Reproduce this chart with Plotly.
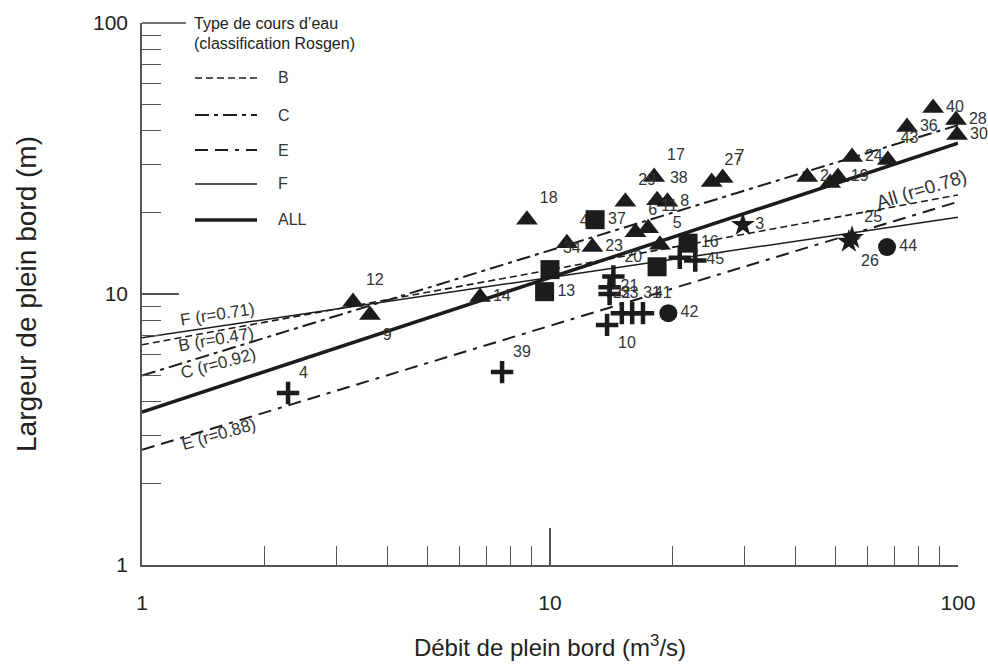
import math
import plotly.graph_objects as go

# ---------------- data ----------------
# Regression lines (value at Q=1 and Q=100 m3/s)
line_x = [1, 100]
line_B = [6.5, 23.2]
line_C = [5.0, 42.0]
line_E = [2.66, 21.9]
line_F = [6.9, 19.2]
line_ALL = [3.67, 36.0]

# Triangles
tri_x = [3.29, 3.62, 6.74, 8.78, 11.0, 12.7, 15.3, 18.0, 18.3, 19.4, 16.2, 17.4, 18.6,
         24.9, 26.5, 42.7, 48.6, 50.8, 55.0, 67.3, 75.0, 86.9, 98.9, 99.5]
tri_y = [9.34, 8.37, 9.75, 18.8, 15.4, 14.9, 21.9, 27.0, 22.2, 21.9, 16.9, 17.5, 15.2,
         25.9, 26.8, 27.0, 25.7, 27.0, 32.0, 31.2, 41.3, 48.6, 43.9, 38.6]
tri_lab = ["12", "9", "14", "18", "46", "23", "29", "17", "38", "8", "6", "11", "5",
           "27", "7", "2", "", "19", "24", "43", "36", "40", "28", "30"]

# Squares
sq_x = [12.9, 10.0, 9.7, 21.8, 18.3]
sq_y = [18.8, 12.3, 10.2, 15.4, 12.6]
sq_lab = ["37", "34", "13", "16", ""]

# Crosses
pl_x = [2.28, 7.63, 14.3, 14.0, 14.0, 13.8, 15.0, 15.9, 16.9, 22.7, 20.8]
pl_y = [4.31, 5.15, 11.6, 10.6, 10.0, 7.69, 8.5, 8.5, 8.5, 13.3, 13.6]
pl_lab = ["4", "39", "20", "21", "33", "10", "22", "31", "41", "45", ""]

# Stars
st_x = [29.7, 55.0, 54.0]
st_y = [18.0, 16.1, 15.6]
st_lab = ["3", "25", "26"]

# Circles
ci_x = [19.5, 67.0]
ci_y = [8.5, 14.9]
ci_lab = ["42", "44"]

# Axis ticks
tick_vals = [1, 10, 100]
tick_text = ["1", "10", "100"]
minor_vals = [2, 3, 4, 5, 6, 7, 8, 9, 20, 30, 40, 50, 60, 70, 80, 90]

# ---------------- styling ----------------
INK = "#1c1c1c"
FONT = "Liberation Sans, Arial, sans-serif"

label_pos = {"9": "bottom right", "13": "middle right", "14": "middle right",
             "21": "middle right", "33": "middle right", "10": "bottom right",
             "42": "middle right", "44": "middle right", "3": "middle right",
             "26": "bottom right", "8": "middle right", "30": "middle right",
             "36": "middle right", "40": "middle right", "28": "middle right",
             "24": "middle right", "2": "middle right", "19": "middle right",
             "16": "middle right", "37": "middle right", "23": "middle right",
             "45": "middle right", "43": "top right", "22": "top center",
             "31": "top right", "41": "top right", "20": "top right"}

fig = go.Figure()

lines = [("B", line_B, dict(width=1.6, dash="7px,4px")),
         ("C", line_C, dict(width=2, dash="14px,5px,4px,5px")),
         ("E", line_E, dict(width=2, dash="13px,7px,13px,7px,4px,7px")),
         ("F", line_F, dict(width=1.5)),
         ("ALL", line_ALL, dict(width=3.5))]
for name, ys, st in lines:
    fig.add_trace(go.Scatter(x=line_x, y=ys, mode="lines", name=name,
                             line=dict(color=INK, **st), showlegend=False,
                             hoverinfo="skip"))


def pts(xs, ys, labs, symbol, size, extra=None):
    mk = dict(symbol=symbol, size=size, color=INK)
    if extra:
        mk.update(extra)
    fig.add_trace(go.Scatter(
        x=xs, y=ys, mode="markers+text", text=[l if l else None for l in labs],
        textposition=[label_pos.get(l, "top right") for l in labs],
        textfont=dict(family=FONT, size=16, color="#333"),
        marker=mk, showlegend=False, cliponaxis=False))


pts(tri_x, tri_y, tri_lab, "triangle-up", 19)
pts(sq_x, sq_y, sq_lab, "square", 19)
pts(pl_x, pl_y, pl_lab, "cross-thin", 16, dict(line=dict(width=4.5, color=INK)))
pts(st_x, st_y, st_lab, "star", 18)
pts(ci_x, ci_y, ci_lab, "circle", 18)

# ---------------- line labels ----------------
line_labels = [("F (r=0.71)", 1.53, 8.37, -9, 17),
               ("B (r=0.47)", 1.52, 6.82, -10, 17),
               ("C (r=0.92)", 1.54, 5.52, -15, 17),
               ("E (r=0.88)", 1.54, 3.02, -16, 17),
               ("All (r=0.78)", 81.2, 24.2, -17, 19)]
for txt, x, y, ang, fs in line_labels:
    fig.add_annotation(x=math.log10(x), y=math.log10(y),
                       text=txt, showarrow=False, textangle=ang,
                       font=dict(family=FONT, size=fs, color="#333"))

# ---------------- legend drawn by hand ----------------
L, R, T, B = 142, 958, 23, 565


def px(xp):
    return (xp - L) / (R - L)


def py(yp):
    return (B - yp) / (B - T)


fig.add_shape(type="line", xref="paper", yref="paper", x0=px(142), x1=px(186),
              y0=py(23), y1=py(23), line=dict(color="#444", width=1.5))
fig.add_annotation(xref="paper", yref="paper", x=px(192), y=py(23), xanchor="left",
                   yanchor="middle", showarrow=False, text="Type de cours d\u2019eau",
                   font=dict(family=FONT, size=16, color="#222"))
fig.add_annotation(xref="paper", yref="paper", x=px(192), y=py(43), xanchor="left",
                   yanchor="middle", showarrow=False, text="(classification Rosgen)",
                   font=dict(family=FONT, size=16, color="#222"))
leg_y = [78, 115, 150, 184, 220]
for (name, _, st), yy in zip(lines, leg_y):
    fig.add_shape(type="line", xref="paper", yref="paper", x0=px(195), x1=px(257),
                  y0=py(yy), y1=py(yy), line=dict(color=INK, **st))
    fig.add_annotation(xref="paper", yref="paper", x=px(276), y=py(yy), xanchor="left",
                       yanchor="middle", showarrow=False, text=name,
                       font=dict(family=FONT, size=16, color="#333"))

axis_common = dict(type="log", range=[0, 2], showgrid=False, zeroline=False,
                   showline=True, linecolor="#555", linewidth=1.5, automargin=False,
                   ticks="inside", ticklen=37, tickwidth=1.5, tickcolor="#555",
                   tickvals=tick_vals, ticktext=tick_text,
                   tickfont=dict(family=FONT, size=21, color="#222"),
                   minor=dict(tickvals=minor_vals, ticks="inside", ticklen=19,
                              tickwidth=1.3, tickcolor="#555"))

fig.update_xaxes(**axis_common, ticklabelstandoff=18,
                 title=dict(text="Débit de plein bord (m<sup>3</sup>/s)", standoff=26,
                            font=dict(family=FONT, size=24, color="#222")))
fig.update_yaxes(**axis_common, ticklabelstandoff=8,
                 title=dict(text="Largeur de plein bord (m)", standoff=48,
                            font=dict(family=FONT, size=28, color="#222")))

fig.update_layout(width=988, height=665, autosize=False,
                  margin=dict(l=L, r=988 - R, t=T, b=665 - B, autoexpand=False),
                  paper_bgcolor="white", plot_bgcolor="white",
                  font=dict(family=FONT, color="#222"))

fig.write_html("out.html")
